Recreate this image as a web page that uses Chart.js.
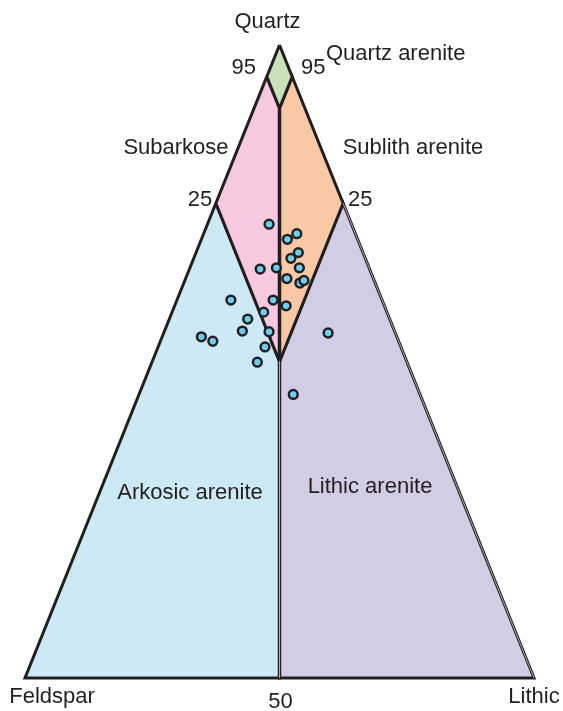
<!DOCTYPE html>
<html>
<head>
<meta charset="utf-8">
<script src="https://cdn.jsdelivr.net/npm/chart.js@4/dist/chart.umd.min.js"></script>
<style>
  html, body { margin: 0; padding: 0; background: #ffffff; }
  #wrap { width: 563px; height: 711px; }
</style>
</head>
<body>
<div id="wrap"><canvas id="c" width="563" height="711"></canvas></div>
<script>
// ---- Sample compositions (percent Quartz / Feldspar / Lithic) ----
const quartz   = [71.7, 69.3, 70.2, 67.2, 66.3, 64.6, 64.8, 64.8, 63.1, 62.4, 62.8, 59.7, 59.7, 58.8, 57.8, 56.7, 54.8, 54.7, 53.9, 53.2, 52.3, 49.9, 54.5, 44.8];
const feldspar = [16.2, 13.8, 11.5, 12.7, 14.6, 21.5, 18.2, 13.7, 17.0, 14.8, 13.8, 29.7, 21.4, 19.3, 24.2, 27.9, 29.9, 24.7, 38.4, 36.5, 26.7, 29.4, 13.2, 24.9];
const lithic   = [12.1, 16.9, 18.3, 20.1, 19.1, 13.9, 17.0, 21.5, 19.9, 22.8, 23.4, 10.6, 18.9, 21.9, 18.0, 15.4, 15.3, 20.6,  7.7, 10.3, 21.0, 20.7, 32.3, 30.3];

// ---- Classification fields (vertices as [Q, F, L]) ----
const fieldNames  = ['Quartz arenite', 'Subarkose', 'Sublith arenite', 'Arkosic arenite', 'Lithic arenite'];
const fieldColors = ['#c9e2b9', '#f7c9e0', '#f9c9a5', '#cde9f5', '#d3cce5'];
const fieldVertices = [
  [[100,0,0],[95,5,0],[90,5,5],[95,0,5]],
  [[95,5,0],[75,25,0],[50,25,25],[90,5,5]],
  [[90,5,5],[50,25,25],[75,0,25],[95,0,5]],
  [[75,25,0],[0,100,0],[0,50,50],[50,25,25]],
  [[50,25,25],[0,50,50],[0,0,100],[75,0,25]]
];
const endMembers = ['Quartz', 'Feldspar', 'Lithic'];
const tickLabels = ['95', '95', '25', '25', '50'];

// ternary -> cartesian (data units)
function toXY(q, f, l) {
  const s = q + f + l;
  q = q / s * 100; l = l / s * 100;
  return { x: l + q / 2, y: q };
}

const ink = '#231f20';

const fieldDatasets = fieldVertices.map((verts, i) => {
  const pts = verts.map(v => toXY(v[0], v[1], v[2]));
  pts.push(pts[0]);
  return {
    label: fieldNames[i],
    data: pts,
    showLine: true,
    fill: 'shape',
    backgroundColor: fieldColors[i],
    borderColor: ink,
    borderWidth: 3,
    borderJoinStyle: 'miter',
    pointRadius: 0,
    tension: 0,
    clip: false,
    order: 3
  };
});

// central divider (F = L)
const divider = {
  label: 'divider',
  data: [toXY(90,5,5), toXY(0,50,50)],
  showLine: true, fill: false, borderColor: ink, borderWidth: 3.5,
  pointRadius: 0, clip: false, order: 2
};
// thin highlights giving the doubled-edge look
const edgeHighlights = [
  { label: 'hl1', data: [toXY(75,0,25), toXY(0,0,100)], showLine: true, fill: false,
    borderColor: 'rgba(225,225,225,0.9)', borderWidth: 0.8, pointRadius: 0, clip: false, order: 1 },
  { label: 'hl2', data: [toXY(50,25,25), toXY(0,50,50)], showLine: true, fill: false,
    borderColor: 'rgba(200,200,200,0.7)', borderWidth: 0.7, pointRadius: 0, clip: false, order: 1 }
];

const samples = {
  label: 'Samples',
  data: quartz.map((q, i) => toXY(q, feldspar[i], lithic[i])),
  pointRadius: 4.4,
  pointBackgroundColor: '#6dcff0',
  pointBorderColor: ink,
  pointBorderWidth: 2.5,
  showLine: false,
  clip: false,
  order: 0
};

const labelPlugin = {
  id: 'ternaryLabels',
  afterDatasetsDraw(chart) {
    const { ctx, scales: { x, y } } = chart;
    const P = (q, f, l) => { const d = toXY(q, f, l); return [x.getPixelForValue(d.x), y.getPixelForValue(d.y)]; };
    ctx.save();
    ctx.fillStyle = ink;
    ctx.font = '22px "Liberation Sans", Arial, sans-serif';
    ctx.textBaseline = 'middle';
    ctx.textAlign = 'center';
    const apex = P(100,0,0), fC = P(0,100,0), lC = P(0,0,100), base = P(0,50,50);
    const l95 = P(95,5,0), r95 = P(95,0,5), l75 = P(75,25,0), r75 = P(75,0,25);
    ctx.fillText(endMembers[0], apex[0] - 12, apex[1] - 23);
    ctx.fillText(endMembers[1], fC[0] + 27, fC[1] + 19);
    ctx.fillText(endMembers[2], lC[0], lC[1] + 19);
    ctx.fillText(tickLabels[0], l95[0] - 23, l95[1] - 9);
    ctx.fillText(tickLabels[1], r95[0] + 21, r95[1] - 9);
    ctx.fillText(tickLabels[2], l75[0] - 16, l75[1] - 3);
    ctx.fillText(tickLabels[3], r75[0] + 17, r75[1] - 3);
    ctx.fillText(tickLabels[4], base[0] + 1, base[1] + 24);
    ctx.fillText(fieldNames[1], 176, 148);
    ctx.fillText(fieldNames[2], 413, 148);
    ctx.fillText(fieldNames[3], 190, 493);
    ctx.fillText(fieldNames[4], 370, 487);
    ctx.textAlign = 'left';
    ctx.fillText(fieldNames[0], 326, 54);
    ctx.restore();
  }
};

new Chart(document.getElementById('c'), {
  type: 'scatter',
  data: { datasets: [samples, ...edgeHighlights, divider, ...fieldDatasets] },
  options: {
    responsive: false,
    animation: false,
    layout: { padding: { left: 25, right: 29, top: 45, bottom: 33 } },
    scales: {
      x: { type: 'linear', min: 0, max: 100, display: false },
      y: { type: 'linear', min: 0, max: 100, display: false }
    },
    plugins: { legend: { display: false }, tooltip: { enabled: false } }
  },
  plugins: [labelPlugin]
});
</script>
</body>
</html>
